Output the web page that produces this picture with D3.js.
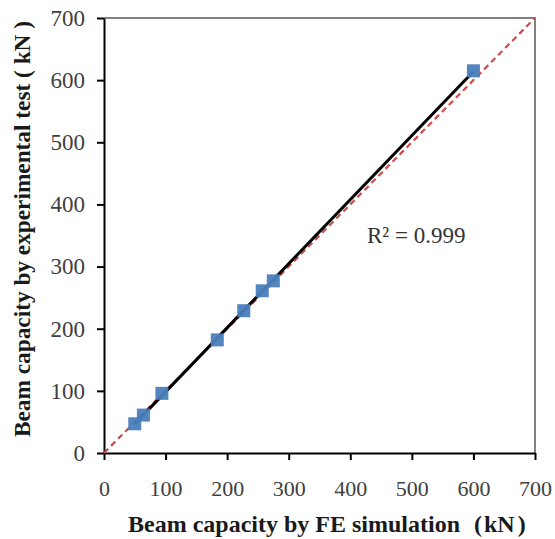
<!DOCTYPE html>
<html><head><meta charset="utf-8">
<script src="https://cdn.jsdelivr.net/npm/d3@7"></script>
<style>body{margin:0;background:#fff}svg{display:block}</style>
</head><body>
<svg id="c" width="555" height="539"></svg>
<script>
const feValues   = [50, 64, 94, 184, 227, 257, 275, 600];
const testValues = [47, 61, 96, 182, 229, 261, 277, 615];
const tickValues = [0, 100, 200, 300, 400, 500, 600, 700];
const xTitleMain = "Beam capacity by FE simulation";
const yTitle = "Beam capacity by experimental test ( kN )";
const r2Label = "R² = 0.999";

const svg = d3.select("#c");
const m = {l:104, r:535, t:18, b:453};
const x = d3.scaleLinear().domain([0,700]).range([m.l, m.r]);
const y = d3.scaleLinear().domain([0,700]).range([m.b, m.t]);
const serif = "'Liberation Serif','Times New Roman',serif";

// frame top/right
svg.append("path").attr("d", `M${m.l},${m.t}H${m.r}V${m.b}`)
  .attr("fill","none").attr("stroke","#808080").attr("stroke-width",2);

const xa = svg.append("g").attr("transform",`translate(0,${m.b})`)
  .call(d3.axisBottom(x).tickValues(tickValues).tickSize(7).tickPadding(20).tickSizeOuter(0));
const ya = svg.append("g").attr("transform",`translate(${m.l},0)`)
  .call(d3.axisLeft(y).tickValues(tickValues).tickSize(7).tickPadding(12).tickSizeOuter(0));
[xa,ya].forEach(a=>{
  a.select(".domain").attr("stroke","#000").attr("stroke-width",2);
  a.selectAll(".tick line").attr("stroke","#000").attr("stroke-width",2);
  a.selectAll(".tick text").attr("font-family",serif).attr("fill","#404040");
});
xa.selectAll(".tick text").attr("font-size",22);
ya.selectAll(".tick text").attr("font-size",23);

// y = x reference
svg.append("line").attr("x1",x(0)).attr("y1",y(0)).attr("x2",x(700)).attr("y2",y(700))
  .attr("stroke","#d04a4a").attr("stroke-width",2.2).attr("stroke-dasharray","6,4");

// linear trendline from least squares
const n = feValues.length;
const mx = d3.mean(feValues), my = d3.mean(testValues);
let sxy=0, sxx=0;
for (let i=0;i<n;i++){ sxy+=(feValues[i]-mx)*(testValues[i]-my); sxx+=(feValues[i]-mx)**2; }
const slope = sxy/sxx, icpt = my - slope*mx;
const x0 = d3.min(feValues), x1 = d3.max(feValues);
svg.append("line").attr("x1",x(x0)).attr("y1",y(slope*x0+icpt)).attr("x2",x(x1)).attr("y2",y(slope*x1+icpt))
  .attr("stroke","#000").attr("stroke-width",3);

// markers
const s = 13;
svg.append("g").selectAll("rect").data(feValues).join("rect")
  .attr("x",(d)=>x(d)-s/2).attr("y",(d,i)=>y(testValues[i])-s/2)
  .attr("width",s).attr("height",s).attr("fill","#4a7ebb").attr("fill-opacity",0.95);

// R2 label
svg.append("text").attr("x",367).attr("y",243).attr("font-family",serif).attr("font-size",23)
  .attr("fill","#333").text(r2Label);

// axis titles
const xt = svg.append("text").attr("x",128).attr("y",532)
  .attr("font-family",serif).attr("font-size",24).attr("font-weight","bold").attr("fill","#1a1a1a");
xt.append("tspan").text(xTitleMain);
xt.append("tspan").attr("dx",14).text("(");
xt.append("tspan").attr("dx",2).text("kN");
xt.append("tspan").attr("dx",3).text(")");
svg.append("text").attr("transform",`translate(30,229) rotate(-90)`).attr("text-anchor","middle")
  .attr("font-family",serif).attr("font-size",23.3).attr("font-weight","bold").attr("fill","#1a1a1a").text(yTitle);
</script>
</body></html>
